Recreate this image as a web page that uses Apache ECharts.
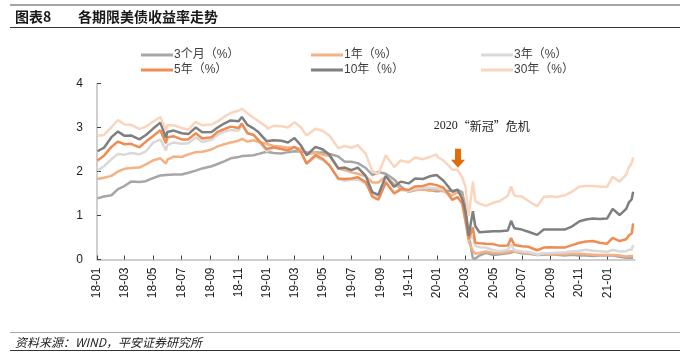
<!DOCTYPE html>
<html><head><meta charset="utf-8">
<script src="https://cdn.jsdelivr.net/npm/echarts@6/dist/echarts.min.js"></script>
<style>html,body{margin:0;padding:0;background:#fff}#c{width:689px;height:361px}</style>
</head><body><div id="c"></div>
<script>
const dates = [
'2018-01-02','2018-01-16','2018-02-01','2018-02-15','2018-03-01','2018-03-15','2018-04-02','2018-04-16','2018-05-01','2018-05-17','2018-05-29','2018-06-01','2018-06-15','2018-07-02','2018-07-16','2018-08-01','2018-08-15','2018-09-04','2018-09-17','2018-10-01','2018-10-15','2018-11-01','2018-11-08','2018-11-20','2018-12-03','2018-12-14','2018-12-31',
'2019-01-02','2019-01-15','2019-02-01','2019-02-15','2019-03-01','2019-03-15','2019-03-27','2019-04-15','2019-05-01','2019-05-15','2019-06-03','2019-06-17','2019-07-01','2019-07-15','2019-08-01','2019-08-15','2019-08-28','2019-09-13','2019-10-01','2019-10-15','2019-11-01','2019-11-15','2019-12-02','2019-12-16','2019-12-31',
'2020-01-02','2020-01-15','2020-02-03','2020-02-14','2020-02-24','2020-03-02','2020-03-09','2020-03-18','2020-03-23','2020-04-01','2020-04-15','2020-05-01','2020-05-15','2020-06-01','2020-06-08','2020-06-15','2020-07-01','2020-07-15','2020-08-03','2020-08-17','2020-09-01','2020-09-15','2020-10-01','2020-10-15','2020-11-02','2020-11-16','2020-12-01','2020-12-15','2020-12-31',
'2021-01-12','2021-01-27','2021-02-10','2021-02-16','2021-02-22','2021-02-25'];
const m3 = [1.39,1.43,1.46,1.60,1.67,1.77,1.76,1.78,1.85,1.91,1.92,1.93,1.93,1.93,1.97,2.02,2.07,2.12,2.17,2.23,2.30,2.33,2.35,2.36,2.37,2.40,2.45,
2.42,2.42,2.41,2.44,2.46,2.45,2.44,2.43,2.43,2.40,2.34,2.22,2.22,2.19,2.08,1.92,1.99,1.95,1.82,1.66,1.54,1.58,1.59,1.58,1.55,
1.54,1.56,1.56,1.58,1.53,1.17,0.57,0.02,0.02,0.09,0.15,0.10,0.12,0.14,0.16,0.18,0.14,0.13,0.10,0.11,0.12,0.11,0.09,0.11,0.09,0.09,0.08,0.09,0.09,
0.09,0.06,0.04,0.04,0.04,0.04];
const y1 = [1.83,1.86,1.90,2.00,2.06,2.08,2.09,2.16,2.25,2.30,2.18,2.27,2.34,2.33,2.39,2.44,2.45,2.50,2.57,2.62,2.66,2.70,2.74,2.68,2.71,2.67,2.63,
2.60,2.58,2.56,2.54,2.55,2.51,2.40,2.42,2.38,2.35,2.07,2.03,1.98,1.95,1.89,1.75,1.75,1.89,1.72,1.61,1.55,1.58,1.59,1.56,1.59,
1.56,1.55,1.46,1.53,1.43,0.98,0.41,0.20,0.13,0.15,0.18,0.15,0.15,0.17,0.19,0.18,0.16,0.14,0.12,0.13,0.12,0.12,0.12,0.13,0.13,0.12,0.11,0.10,0.10,
0.10,0.09,0.07,0.08,0.08,0.08];
const y3 = [2.02,2.12,2.28,2.40,2.38,2.42,2.39,2.46,2.65,2.73,2.48,2.60,2.66,2.63,2.64,2.78,2.67,2.72,2.83,2.90,2.94,2.93,3.05,2.87,2.84,2.71,2.46,
2.48,2.54,2.51,2.48,2.55,2.43,2.18,2.33,2.26,2.14,1.83,1.79,1.81,1.82,1.72,1.50,1.43,1.79,1.52,1.58,1.55,1.61,1.63,1.63,1.62,
1.59,1.59,1.35,1.42,1.28,0.85,0.44,0.54,0.31,0.28,0.27,0.21,0.19,0.22,0.34,0.21,0.18,0.17,0.11,0.14,0.15,0.16,0.16,0.18,0.20,0.22,0.20,0.19,0.17,
0.22,0.18,0.19,0.22,0.22,0.33];
const y5 = [2.25,2.36,2.56,2.68,2.62,2.63,2.55,2.68,2.80,2.94,2.64,2.78,2.80,2.73,2.73,2.87,2.75,2.78,2.90,2.96,3.02,2.99,3.09,2.87,2.83,2.71,2.51,
2.49,2.55,2.51,2.48,2.56,2.44,2.18,2.37,2.28,2.14,1.84,1.83,1.84,1.87,1.76,1.43,1.36,1.75,1.50,1.60,1.58,1.66,1.67,1.72,1.69,
1.67,1.63,1.36,1.42,1.27,0.89,0.46,0.73,0.38,0.37,0.36,0.35,0.31,0.32,0.49,0.33,0.30,0.29,0.21,0.27,0.28,0.27,0.27,0.32,0.38,0.41,0.42,0.38,0.36,
0.49,0.42,0.46,0.55,0.59,0.82];
const y10 = [2.46,2.54,2.78,2.91,2.81,2.82,2.73,2.83,2.97,3.11,2.77,2.90,2.93,2.87,2.85,3.00,2.89,2.90,3.00,3.09,3.16,3.14,3.24,3.06,2.98,2.89,2.69,
2.66,2.71,2.70,2.66,2.76,2.59,2.37,2.56,2.50,2.38,2.07,2.09,2.03,2.09,1.90,1.53,1.47,1.90,1.65,1.77,1.73,1.84,1.83,1.89,1.92,
1.88,1.79,1.54,1.59,1.38,1.10,0.54,1.10,0.76,0.62,0.63,0.64,0.64,0.66,0.88,0.71,0.68,0.63,0.56,0.68,0.68,0.68,0.68,0.74,0.87,0.91,0.93,0.92,0.93,
1.15,1.01,1.15,1.30,1.37,1.54];
const y30 = [2.81,2.83,3.01,3.17,3.07,3.06,2.97,3.02,3.13,3.24,2.94,3.05,3.05,2.99,2.95,3.13,3.05,3.07,3.14,3.24,3.33,3.38,3.43,3.32,3.22,3.14,3.02,
2.97,3.04,3.03,3.00,3.12,3.00,2.82,2.97,2.92,2.82,2.53,2.58,2.54,2.60,2.40,2.01,1.94,2.37,2.10,2.25,2.21,2.32,2.28,2.33,2.39,
2.33,2.25,2.04,2.04,1.87,1.66,0.99,1.77,1.33,1.27,1.22,1.29,1.33,1.45,1.66,1.45,1.43,1.33,1.21,1.42,1.44,1.42,1.46,1.53,1.66,1.67,1.67,1.66,1.65,
1.88,1.77,1.93,2.10,2.19,2.32];
const seriesNames = ['3个月（%）','1年（%）','3年（%）','5年（%）','10年（%）','30年（%）'];
const tickLabels = ['2018-01-01','2018-03-01','2018-05-01','2018-07-01','2018-09-01','2018-11-01','2019-01-01','2019-03-01','2019-05-01','2019-07-01','2019-09-01','2019-11-01','2020-01-01','2020-03-01','2020-05-01','2020-07-01','2020-09-01','2020-11-01','2021-01-01'];

const colors = ['#a6a6a6','#f4b183','#d9d9d9','#ee8c52','#7f7f7f','#f9d5bd'];
const allValues = [m3, y1, y3, y5, y10, y30];
const legendPos = [[141,49],[311,49],[481,49],[141,64],[311,64],[481,64]];
const FONT = '"Liberation Sans","Noto Sans CJK SC",sans-serif';

const ts = s => echarts.time.parse(s).getTime();
const chart = echarts.init(document.getElementById('c'), null, {renderer:'canvas'});
const tickTs = tickLabels.map(ts);

const series = seriesNames.map((n, i) => ({
  name: n, type: 'line', showSymbol: false, symbol: 'none',
  data: dates.map((d, k) => [ts(d), allValues[i][k]]),
  lineStyle: {width: 2.5, color: colors[i]},
  itemStyle: {color: colors[i]},
  animation: false, z: 2
}));
series[5].markPoint = {
  silent: true, animation: false,
  data: [
    {coord: [ts('2020-02-15'), 2.30], symbol: 'path://M4,0L10,0L10,11L14,11L7,19L0,11L4,11Z', symbolSize: [14,19],
     itemStyle: {color: '#e36c0a'}, label: {show: false}},
    {coord: [ts('2020-04-06'), 3.03], symbol: 'rect', symbolSize: 1, itemStyle: {color: 'rgba(0,0,0,0)'},
     label: {show: true, position: 'inside', formatter: '{a|2020}{b|“新冠”危机}',
       rich: {
         a: {color: '#222', fontSize: 12, fontFamily: '"Liberation Serif",serif'},
         b: {color: '#222', fontSize: 12, fontFamily: '"Noto Sans CJK SC",sans-serif'}
       }}}
  ]
};

const legends = seriesNames.map((n, i) => ({
  data: [n], left: legendPos[i][0], top: legendPos[i][1], icon: 'rect', itemWidth: 32, itemHeight: 3, itemGap: 0,
  textStyle: {fontSize: 12, color: '#404040', fontFamily: FONT, padding: [0,0,0,-4]}, padding: 0
}));

chart.setOption({
  animation: false,
  color: colors,
  grid: {left: 97, right: 54, top: 83.5, bottom: 101.5},
  legend: legends,
  xAxis: {
    type: 'value', min: ts('2018-01-01'), max: ts('2021-03-01'),
    axisLine: {lineStyle: {color: '#bfbfbf', width: 1.5}},
    axisTick: {show: true, inside: true, length: 4, lineStyle: {color: '#404040'}, customValues: tickTs},
    axisLabel: {rotate: 90, margin: 8, fontSize: 12, color: '#222', fontFamily: FONT, customValues: tickTs,
      formatter: v => echarts.time.format(v, '{yy}-{MM}', false)},
    splitLine: {show: false}
  },
  yAxis: {
    type: 'value', min: 0, max: 4, interval: 1,
    axisLine: {show: true, lineStyle: {color: '#bfbfbf', width: 1.5}},
    axisTick: {show: true, inside: true, length: 4, lineStyle: {color: '#404040'}},
    axisLabel: {fontSize: 12, color: '#222', margin: 14, fontFamily: FONT},
    splitLine: {show: false}
  },
  series: series,
  graphic: [
    {type: 'rect', shape: {x: 10, y: 4, width: 670, height: 2}, style: {fill: '#a6a6a6'}, silent: true},
    {type: 'text', style: {x: 15, y: 17, text: '图表8', verticalAlign: 'middle', font: 'bold 14px "Noto Sans CJK SC"', fill: '#1a1a1a'}},
    {type: 'text', style: {x: 78, y: 17, text: '各期限美债收益率走势', verticalAlign: 'middle', font: 'bold 14px "Noto Sans CJK SC"', fill: '#1a1a1a'}},
    {type: 'rect', shape: {x: 10, y: 27, width: 670, height: 1}, style: {fill: '#333'}, silent: true},
    {type: 'rect', shape: {x: 10, y: 332, width: 670, height: 1}, style: {fill: '#a6a6a6'}, silent: true},
    {type: 'text', style: {x: 15, y: 342, text: '资料来源：WIND，平安证券研究所', verticalAlign: 'middle', font: 'italic 12px "Noto Sans CJK SC"', fill: '#222'}},
    {type: 'rect', shape: {x: 10, y: 350, width: 670, height: 1}, style: {fill: '#333'}, silent: true}
  ]
});
</script></body></html>
